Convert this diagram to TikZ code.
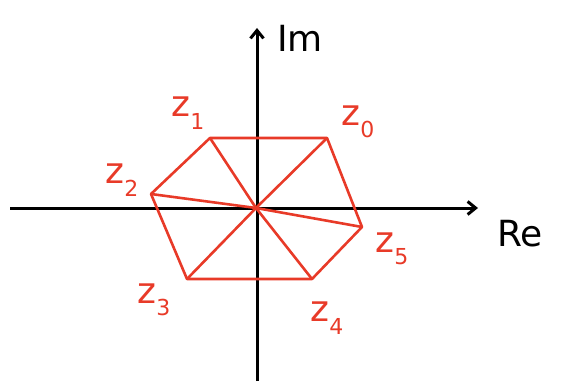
\documentclass[tikz,border=0pt]{standalone}
\usepackage{fontspec}
\setmainfont{DejaVu Sans}
\usetikzlibrary{arrows.meta}
\definecolor{hred}{RGB}{232,58,40}
\newcommand{\zlab}[1]{z\raisebox{-0.35em}{\fontsize{22}{22}\selectfont #1}}
\tikzset{
  axis/.style={draw=black, line width=3pt, -{Straight Barb[length=8pt,width=13pt]}},
  edge/.style={draw=hred, line width=2.6pt, line join=round},
  lab/.style={text=hred, font=\fontsize{36}{36}\selectfont, inner sep=0pt},
  axlab/.style={text=black, font=\fontsize{36}{36}\selectfont, inner sep=0pt}
}
\begin{document}
\begin{tikzpicture}[x=1pt,y=-1pt]
\useasboundingbox (0,0) rectangle (561,382);
\coordinate (xl) at (10,208);
\coordinate (xr) at (478,208);
\coordinate (yb) at (257,381);
\coordinate (yt) at (257,28);
\draw[axis] (xl) -- (xr);
\draw[axis] (yb) -- (yt);
\coordinate (o) at (256,208);
\coordinate (v0) at (327,138);
\coordinate (v1) at (210,138);
\coordinate (v2) at (151,194);
\coordinate (v3) at (187,279);
\coordinate (v4) at (312,279);
\coordinate (v5) at (362,227);
\draw[edge] (v0) -- (v1) -- (v2) -- (v3) -- (v4) -- (v5) -- cycle;
\foreach \i in {0,...,5} {\draw[edge] (o) -- (v\i);}
\node[lab] (l0) at (358,122) {\zlab{0}};
\node[lab] (l1) at (188,113) {\zlab{1}};
\node[lab] (l2) at (122,180) {\zlab{2}};
\node[lab] (l3) at (154,300) {\zlab{3}};
\node[lab] (l4) at (327,318) {\zlab{4}};
\node[lab] (l5) at (392,249) {\zlab{5}};
\node[axlab] (im) at (300,38) {Im};
\node[axlab] (re) at (520,234) {Re};
\end{tikzpicture}
\end{document}
